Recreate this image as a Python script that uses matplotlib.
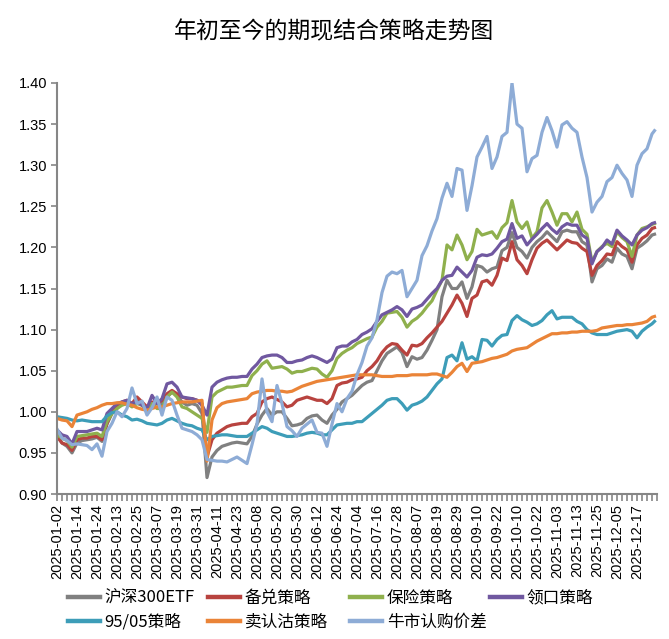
import matplotlib
matplotlib.use('Agg')
import matplotlib.pyplot as plt
from matplotlib.lines import Line2D
from matplotlib.font_manager import FontProperties
from matplotlib.ticker import MultipleLocator, FixedLocator
import pandas as pd

plt.rcParams['font.family'] = ['Liberation Sans', 'Noto Sans CJK SC', 'DejaVu Sans']

# ---------------- trading calendar (SSE 2025) ----------------
holidays = ['2025-01-01', '2025-01-28', '2025-01-29', '2025-01-30', '2025-01-31',
            '2025-02-03', '2025-02-04', '2025-04-04', '2025-05-01', '2025-05-02',
            '2025-05-05', '2025-06-02', '2025-10-01', '2025-10-02', '2025-10-03',
            '2025-10-06', '2025-10-07', '2025-10-08']
trading_days = pd.bdate_range('2025-01-02', '2025-12-26')
trading_days = trading_days[~trading_days.isin(pd.to_datetime(holidays))]
N = len(trading_days)
sample_idx = list(range(0, N - 1, 2)) + [N - 1]   # every second trading day + last

title = '年初至今的期现结合策略走势图'
series_names = ['沪深300ETF', '备兑策略', '保险策略', '领口策略',
                '95/05策略', '卖认沽策略', '牛市认购价差']

hs300 = [0.972, 0.962, 0.958, 0.950, 0.962, 0.965, 0.966, 0.967, 0.969, 0.964,
         0.985, 0.998, 1.004, 1.010, 1.013, 1.008, 1.014, 1.010, 1.002, 1.008,
         1.005, 1.010, 1.018, 1.024, 1.020, 1.012, 1.008, 1.010, 1.008, 0.998,
         0.920, 0.945, 0.953, 0.958, 0.960, 0.962, 0.963, 0.962, 0.961, 0.970,
         0.985, 0.996, 1.004, 0.996, 1.000, 1.000, 0.992, 0.983, 0.984, 0.986,
         0.992, 0.995, 0.996, 0.990, 0.986, 0.996, 1.003, 1.012, 1.016, 1.020,
         1.026, 1.032, 1.036, 1.038, 1.050, 1.062, 1.071, 1.075, 1.079, 1.072,
         1.055, 1.067, 1.064, 1.066, 1.075, 1.087, 1.100, 1.140, 1.160, 1.150,
         1.150, 1.158, 1.138, 1.152, 1.178, 1.176, 1.170, 1.174, 1.176, 1.196,
         1.200, 1.218, 1.200, 1.195, 1.187, 1.200, 1.207, 1.212, 1.219, 1.213,
         1.207, 1.219, 1.221, 1.219, 1.219, 1.207, 1.203, 1.158, 1.174, 1.178,
         1.186, 1.182, 1.199, 1.192, 1.189, 1.174, 1.199, 1.203, 1.208, 1.215,
         1.216]

covered_call = [0.970, 0.962, 0.960, 0.953, 0.966, 0.968, 0.968, 0.970, 0.970, 0.966,
                0.986, 1.000, 1.006, 1.012, 1.014, 1.010, 1.018, 1.012, 1.006, 1.012,
                1.010, 1.014, 1.022, 1.026, 1.022, 1.018, 1.016, 1.016, 1.014, 1.010,
                0.945, 0.966, 0.974, 0.978, 0.982, 0.984, 0.985, 0.986, 0.986, 0.994,
                0.998, 1.012, 1.016, 1.018, 1.015, 1.012, 1.006, 1.008, 1.014, 1.016,
                1.018, 1.016, 1.014, 1.014, 1.010, 1.016, 1.032, 1.035, 1.036, 1.039,
                1.040, 1.042, 1.050, 1.055, 1.062, 1.072, 1.079, 1.083, 1.082, 1.075,
                1.069, 1.081, 1.080, 1.083, 1.090, 1.096, 1.103, 1.110, 1.120, 1.130,
                1.142, 1.132, 1.116, 1.138, 1.142, 1.158, 1.160, 1.154, 1.166, 1.187,
                1.184, 1.207, 1.185, 1.178, 1.168, 1.185, 1.199, 1.205, 1.209, 1.203,
                1.197, 1.203, 1.209, 1.206, 1.205, 1.199, 1.195, 1.166, 1.178, 1.184,
                1.192, 1.191, 1.207, 1.201, 1.197, 1.182, 1.203, 1.211, 1.215, 1.223,
                1.224]

protective_put = [0.972, 0.968, 0.965, 0.957, 0.970, 0.971, 0.972, 0.973, 0.974, 0.970,
                  0.988, 0.998, 1.004, 1.008, 1.010, 1.006, 1.010, 1.008, 1.000, 1.010,
                  1.004, 1.004, 1.018, 1.024, 1.018, 1.006, 1.004, 1.000, 0.996, 0.992,
                  0.975, 1.018, 1.024, 1.027, 1.030, 1.030, 1.031, 1.032, 1.032, 1.044,
                  1.050, 1.058, 1.062, 1.053, 1.054, 1.055, 1.052, 1.047, 1.049, 1.049,
                  1.051, 1.053, 1.052, 1.046, 1.042, 1.050, 1.065, 1.071, 1.075, 1.078,
                  1.083, 1.086, 1.089, 1.091, 1.103, 1.110, 1.120, 1.121, 1.122, 1.115,
                  1.103, 1.110, 1.114, 1.120, 1.128, 1.135, 1.148, 1.160, 1.203, 1.197,
                  1.215, 1.203, 1.185, 1.195, 1.222, 1.215, 1.217, 1.219, 1.211, 1.224,
                  1.230, 1.257, 1.231, 1.223, 1.231, 1.211, 1.219, 1.248, 1.257, 1.243,
                  1.227, 1.241, 1.241, 1.231, 1.243, 1.222, 1.216, 1.182, 1.195, 1.201,
                  1.205, 1.201, 1.219, 1.212, 1.207, 1.189, 1.215, 1.223, 1.225, 1.228,
                  1.229]

collar = [0.978, 0.972, 0.970, 0.961, 0.976, 0.976, 0.976, 0.978, 0.980, 0.978,
          0.998, 1.004, 1.010, 1.012, 1.014, 1.010, 1.012, 1.008, 1.004, 1.020,
          1.010, 1.016, 1.034, 1.036, 1.030, 1.018, 1.017, 1.016, 1.014, 1.008,
          0.996, 1.030, 1.036, 1.039, 1.041, 1.042, 1.042, 1.043, 1.043, 1.052,
          1.058, 1.066, 1.068, 1.069, 1.069, 1.066, 1.060, 1.060, 1.062, 1.063,
          1.066, 1.068, 1.066, 1.063, 1.060, 1.064, 1.078, 1.080, 1.080, 1.085,
          1.088, 1.094, 1.097, 1.101, 1.110, 1.118, 1.121, 1.124, 1.128, 1.124,
          1.116, 1.125, 1.127, 1.130, 1.137, 1.144, 1.150, 1.160, 1.165, 1.166,
          1.176, 1.170, 1.164, 1.172, 1.188, 1.191, 1.190, 1.192, 1.199, 1.207,
          1.210, 1.229, 1.211, 1.214, 1.203, 1.210, 1.216, 1.223, 1.229, 1.222,
          1.217, 1.225, 1.229, 1.227, 1.227, 1.215, 1.211, 1.180, 1.195, 1.200,
          1.209, 1.204, 1.221, 1.214, 1.209, 1.203, 1.215, 1.221, 1.224, 1.229,
          1.230]

s9505 = [0.994, 0.993, 0.992, 0.990, 0.989, 0.990, 0.989, 0.988, 0.988, 0.988,
         0.995, 0.999, 1.000, 0.996, 0.994, 0.990, 0.991, 0.989, 0.986, 0.985,
         0.984, 0.986, 0.990, 0.992, 0.989, 0.986, 0.984, 0.983, 0.980, 0.978,
         0.966, 0.970, 0.971, 0.972, 0.972, 0.971, 0.970, 0.970, 0.970, 0.974,
         0.978, 0.982, 0.980, 0.976, 0.974, 0.972, 0.970, 0.970, 0.971, 0.972,
         0.974, 0.975, 0.974, 0.972, 0.972, 0.978, 0.984, 0.985, 0.986, 0.986,
         0.988, 0.988, 0.993, 0.998, 1.003, 1.008, 1.014, 1.016, 1.016, 1.010,
         1.002, 1.008, 1.010, 1.013, 1.018, 1.026, 1.034, 1.040, 1.066, 1.069,
         1.062, 1.084, 1.064, 1.067, 1.062, 1.088, 1.087, 1.080, 1.088, 1.093,
         1.094, 1.111, 1.117, 1.112, 1.109, 1.105, 1.107, 1.111, 1.118, 1.123,
         1.113, 1.115, 1.115, 1.115, 1.110, 1.107, 1.100, 1.096, 1.094, 1.094,
         1.094, 1.096, 1.098, 1.099, 1.100, 1.098, 1.090, 1.098, 1.103, 1.107,
         1.110]

short_put = [0.992, 0.990, 0.989, 0.982, 0.996, 0.998, 1.000, 1.003, 1.005, 1.008,
             1.010, 1.010, 1.011, 1.011, 1.009, 1.008, 1.005, 1.003, 1.002, 1.004,
             1.006, 1.006, 1.008, 1.010, 1.011, 1.012, 1.012, 1.012, 1.013, 1.014,
             0.940, 0.990, 1.005, 1.010, 1.012, 1.013, 1.014, 1.015, 1.016, 1.022,
             1.024, 1.025, 1.026, 1.026, 1.025, 1.025, 1.024, 1.025, 1.028, 1.031,
             1.033, 1.035, 1.037, 1.038, 1.039, 1.040, 1.041, 1.042, 1.043, 1.044,
             1.045, 1.045, 1.045, 1.045, 1.044, 1.043, 1.043, 1.043, 1.044, 1.044,
             1.044, 1.045, 1.045, 1.045, 1.045, 1.046, 1.046, 1.044, 1.042, 1.048,
             1.055, 1.059, 1.049, 1.059, 1.060, 1.061, 1.063, 1.065, 1.066, 1.068,
             1.070, 1.074, 1.076, 1.077, 1.078, 1.082, 1.086, 1.089, 1.092, 1.095,
             1.095, 1.096, 1.096, 1.097, 1.097, 1.098, 1.098, 1.098, 1.099, 1.102,
             1.103, 1.104, 1.105, 1.105, 1.106, 1.106, 1.107, 1.108, 1.110, 1.115,
             1.116]

bull_call_spread = [0.979, 0.968, 0.965, 0.960, 0.961, 0.960, 0.959, 0.954, 0.961, 0.946,
                    0.976, 0.986, 1.000, 0.994, 1.004, 1.029, 1.010, 1.013, 0.996, 1.005,
                    1.018, 0.996, 1.018, 1.014, 0.996, 0.980, 0.978, 0.976, 0.972, 0.966,
                    0.942, 0.941, 0.940, 0.940, 0.939, 0.942, 0.945, 0.941, 0.937, 0.960,
                    0.985, 1.040, 1.000, 0.988, 1.032, 1.010, 0.982, 0.977, 0.970, 0.980,
                    0.985, 0.990, 0.975, 0.974, 0.958, 0.985, 1.010, 1.000, 1.016, 1.025,
                    1.045, 1.060, 1.080, 1.090, 1.112, 1.145, 1.165, 1.170, 1.168, 1.172,
                    1.140, 1.150, 1.160, 1.190, 1.202, 1.220, 1.235, 1.260, 1.278, 1.262,
                    1.296, 1.294, 1.245, 1.275, 1.310, 1.322, 1.335, 1.296, 1.310, 1.335,
                    1.340, 1.400, 1.350, 1.345, 1.292, 1.308, 1.312, 1.340, 1.358, 1.342,
                    1.322, 1.349, 1.353, 1.345, 1.340, 1.310, 1.285, 1.243, 1.255, 1.262,
                    1.280, 1.285, 1.300, 1.290, 1.282, 1.262, 1.300, 1.314, 1.320, 1.338,
                    1.342]

series_values = [hs300, covered_call, protective_put, collar, s9505, short_put, bull_call_spread]
colors = ['#808080', '#b8433f', '#8fb04d', '#7058a0', '#3d9db8', '#ea8438', '#8eacd6']

y_ticks = [0.90, 0.95, 1.00, 1.05, 1.10, 1.15, 1.20, 1.25, 1.30, 1.35, 1.40]

# ---------------- figure ----------------
W, H = 669, 639
fig = plt.figure(figsize=(W / 100, H / 100), dpi=100)
ax = fig.add_axes([57 / W, 1 - 494 / H, 600 / W, 411 / H])

for vals, c, name in zip(series_values, colors, series_names):
    assert len(vals) == len(sample_idx)
    ax.plot(sample_idx, vals, color=c, lw=2.3, solid_joinstyle='round', label=name)

ax.set_xlim(0, 240)
ax.set_ylim(0.9, 1.4)
ax.set_yticks(y_ticks)
ax.set_yticklabels([f'{v:.2f}' for v in y_ticks], fontsize=10.5)

label_pos = list(range(0, N, 8))
ax.xaxis.set_major_locator(FixedLocator(label_pos))
ax.set_xticklabels([trading_days[i].strftime('%Y-%m-%d') for i in label_pos],
                   rotation=90, fontsize=10.5)
ax.xaxis.set_minor_locator(MultipleLocator(2))

for s in ['top', 'right']:
    ax.spines[s].set_visible(False)
for s in ['left', 'bottom']:
    ax.spines[s].set_color('#868686')
    ax.spines[s].set_linewidth(1.5)
ax.tick_params(axis='y', which='major', direction='out', length=4, width=1.2,
               color='#868686', pad=3)
ax.tick_params(axis='x', which='both', direction='out', length=5, width=1.2,
               color='#868686', pad=2)

fig.text(0.5, 1 - 32 / H, title, ha='center', va='center', fontsize=16.5,
         family=['Noto Sans CJK SC', 'DejaVu Sans'])

# legend: 4 + 3 entries laid out in a uniform grid
leg_font = FontProperties(family=['Noto Sans CJK SC', 'DejaVu Sans'], size=12)
col_x = [68, 208, 350, 490]
row_y = [598, 622]
positions = [(0, 0), (1, 0), (2, 0), (3, 0), (0, 1), (1, 1), (2, 1)]
for (ci, ri), c, name in zip(positions, colors, series_names):
    h = Line2D([], [], color=c, lw=3.2)
    fig.legend([h], [name], loc='center left',
               bbox_to_anchor=(col_x[ci] / W, 1 - row_y[ri] / H),
               frameon=False, prop=leg_font, handlelength=1.9,
               handletextpad=0.3, borderpad=0, borderaxespad=0)

fig.savefig('out.png', dpi=100)
